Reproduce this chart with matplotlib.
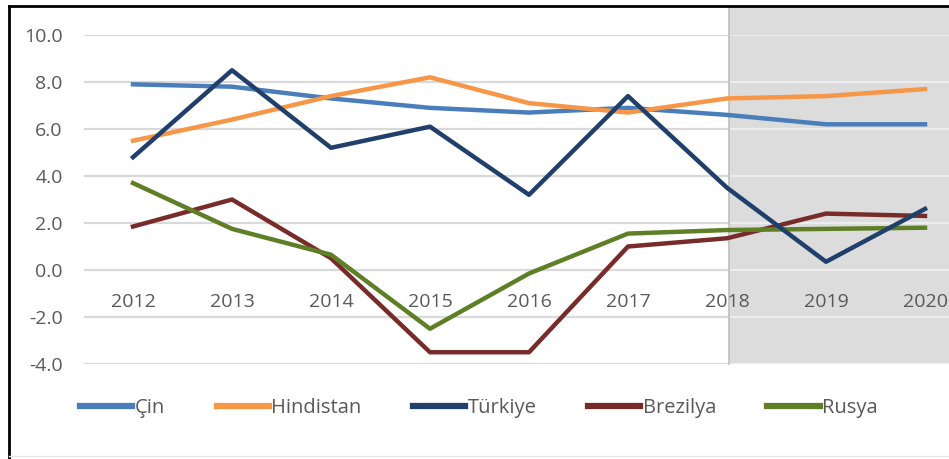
import matplotlib.pyplot as plt
from matplotlib.patches import Rectangle

plt.rcParams['font.family'] = ['Open Sans', 'DejaVu Sans']

years = ['2012', '2013', '2014', '2015', '2016', '2017', '2018', '2019', '2020']
cin = [7.9, 7.8, 7.3, 6.9, 6.7, 6.9, 6.6, 6.2, 6.2]
hindistan = [5.5, 6.4, 7.4, 8.2, 7.1, 6.7, 7.3, 7.4, 7.7]
turkiye = [4.8, 8.5, 5.2, 6.1, 3.2, 7.4, 3.5, 0.35, 2.6]
brezilya = [1.85, 3.0, 0.5, -3.5, -3.5, 1.0, 1.35, 2.4, 2.3]
rusya = [3.7, 1.75, 0.65, -2.5, -0.15, 1.55, 1.7, 1.75, 1.8]
yticks = [-4, -2, 0, 2, 4, 6, 8, 10]

W, H = 949, 459
fs = 14
fig = plt.figure(figsize=(W / 100, H / 100), dpi=100)

# plot area: category axis cut off at the right edge, as in the original
x0, x1 = 83.5, 974.5
ytop, ybot = 35, 364
ax = fig.add_axes([x0 / W, (H - ybot) / H, (x1 - x0) / W, (ybot - ytop) / H])
ax.set_xlim(-0.5, 8.5)
ax.set_ylim(-4, 10)
for s in ax.spines.values():
    s.set_visible(False)

x = list(range(len(years)))

# forecast shading 2018-2020
xs = 6.02
shade = Rectangle((xs, -4), 4, 15.2, facecolor='#DCDCDC', edgecolor='none',
                  zorder=0.5, clip_on=False)
ax.add_patch(shade)
ax.plot([xs, xs], [-4, 11.2], color='#BFBFBF', lw=1.2, clip_on=False, zorder=0.6)

for t in yticks:
    ax.axhline(t, color='#D9D9D9', lw=1.6, zorder=0.4)
    ax.plot([xs + 0.02, 8.5], [t, t], color='#EDEDED', lw=1.6, zorder=0.7)

ax.set_yticks(yticks)
ax.set_yticklabels([f'{t:.1f}' for t in yticks])
ax.tick_params(axis='y', length=0, pad=15, labelsize=fs, labelcolor='#595959')
ax.set_xticks([])

for i, yr in enumerate(years):
    ax.annotate(yr, (i, 0), xytext=(0, -32), textcoords='offset pixels',
                ha='center', va='center', fontsize=fs, color='#595959', zorder=1)

lw = 3.2
ax.plot(x, cin, color='#4A7EBB', lw=lw, label='Çin', zorder=3)
ax.plot(x, hindistan, color='#F79646', lw=lw, label='Hindistan', zorder=3)
ax.plot(x, turkiye, color='#203F6B', lw=lw, label='Türkiye', zorder=4)
ax.plot(x, brezilya, color='#772C2A', lw=lw, label='Brezilya', zorder=3)
ax.plot(x, rusya, color='#5E7F26', lw=lw, label='Rusya', zorder=3)

leg = fig.legend(loc='center left', bbox_to_anchor=(62 / W, 1 - 408 / H), ncol=5,
                 frameon=False, fontsize=14.5, handlelength=2.6, handletextpad=0.12,
                 columnspacing=2.55, labelcolor='#595959')
for h in leg.get_lines():
    h.set_linewidth(4.5)

# outer frame (left and top), light line at bottom
fig.add_artist(plt.Line2D([9 / W, 9 / W], [0, 1 - 6 / H], color='black', lw=2))
fig.add_artist(plt.Line2D([9 / W, 1], [1 - 6 / H, 1 - 6 / H], color='black', lw=2))
fig.add_artist(plt.Line2D([9 / W, 1], [3 / H, 3 / H], color='#E6E6E6', lw=1))

fig.savefig('out.png', dpi=100)
